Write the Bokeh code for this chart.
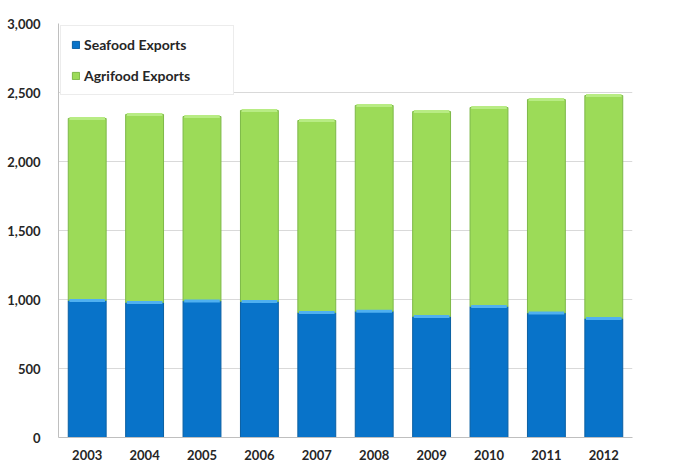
from bokeh.plotting import figure
from bokeh.models import ColumnDataSource, FactorRange, Range1d, Legend, LegendItem, NumeralTickFormatter, SingleIntervalTicker
from bokeh.embed import file_html
from bokeh.resources import INLINE

years = ["2003", "2004", "2005", "2006", "2007", "2008", "2009", "2010", "2011", "2012"]
seafood = [993, 978, 990, 985, 905, 915, 877, 950, 903, 862]
agrifood = [1319, 1363, 1336, 1385, 1392, 1491, 1485, 1441, 1546, 1616]

total = [s + a for s, a in zip(seafood, agrifood)]
src = ColumnDataSource(dict(years=years, seafood=seafood, agrifood=agrifood, total=total,
                            zero=[0] * len(years)))

p = figure(width=675, height=462, x_range=FactorRange(*years, range_padding=0),
           y_range=Range1d(0, 3000), output_backend="svg", toolbar_location=None,
           min_border_left=58, min_border_right=43, min_border_top=23, min_border_bottom=25)

blue = "#0873C9"
green = "#9CDB58"
r1 = p.vbar(x="years", bottom="zero", top="seafood", width=0.66, source=src,
            fill_color=blue, line_color="#0A5FA3", line_width=1)
r2 = p.vbar(x="years", bottom="seafood", top="total", width=0.66, source=src,
            fill_color=green, line_color="#7DB848", line_width=1)
# top highlights
p.vbar(x="years", bottom="seafood", top="seafood", width=0.62, source=src,
       line_color="#4FB0F0", line_width=3)
p.vbar(x="years", bottom="total", top="total", width=0.62, source=src,
       line_color="#B8EC84", line_width=3)

p.outline_line_color = None
p.xgrid.grid_line_color = None
p.ygrid.grid_line_color = "#D9D9D9"
p.ygrid.grid_line_width = 1

p.yaxis.ticker = SingleIntervalTicker(interval=500)
p.yaxis.formatter = NumeralTickFormatter(format="0,0")
for ax in (p.xaxis[0], p.yaxis[0]):
    ax.axis_line_color = "#BFBFBF"
    ax.major_tick_line_color = None
    ax.minor_tick_line_color = None
    ax.major_label_text_font = "Lato"
    ax.major_label_text_font_style = "bold"
    ax.major_label_text_font_size = "13px"
    ax.major_label_text_color = "#262626"
p.yaxis.major_label_standoff = 12
p.xaxis.major_label_standoff = 6

legend = Legend(items=[LegendItem(label="Seafood Exports", renderers=[r1]),
                       LegendItem(label="Agrifood Exports", renderers=[r2])],
                location="top_left", margin=2, padding=10, spacing=14,
                glyph_width=9, glyph_height=9, label_standoff=4, label_width=139,
                label_text_font="Lato", label_text_font_style="bold",
                label_text_font_size="14px", label_text_color="#262626",
                border_line_color="#D9D9D9", background_fill_color="white",
                background_fill_alpha=1)
p.add_layout(legend)

open("out.html", "w").write(file_html(p, INLINE))
